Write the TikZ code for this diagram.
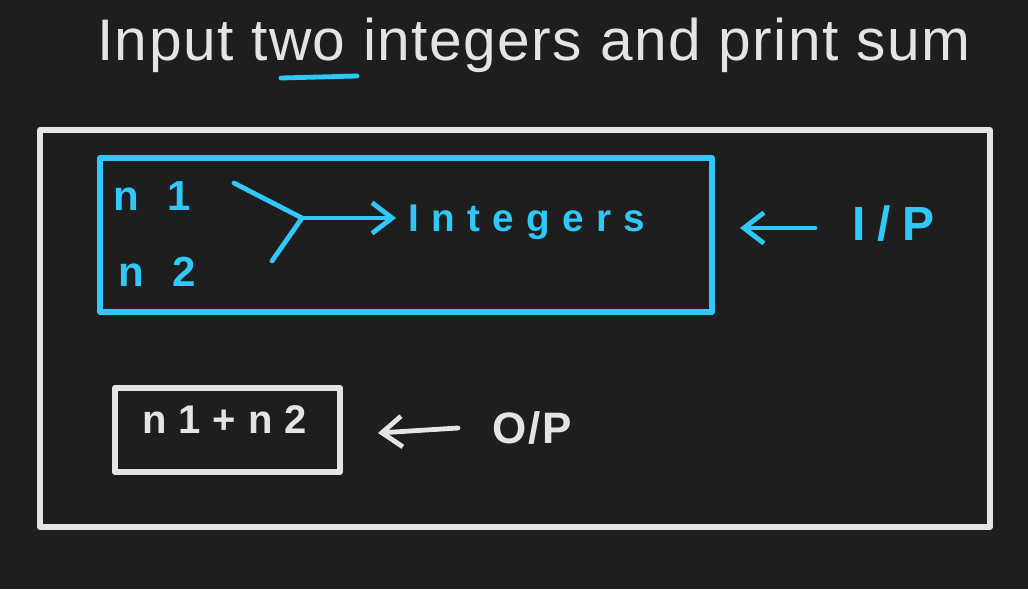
\documentclass[tikz,border=0pt]{standalone}
\usepackage{fontspec}
\setmainfont{Liberation Sans}
\usetikzlibrary{arrows.meta}
\definecolor{bg}{HTML}{1E1E1E}
\definecolor{ink}{HTML}{E4E4E4}
\definecolor{sky}{HTML}{30C8F8}
\tikzset{
  frame/.style={line width=4pt, line join=round, line cap=round},
  pen/.style={line width=3.6pt, line cap=round, line join=round},
  barb/.style={-{Straight Barb[length=15pt,width=23pt,line width=3.6pt]}},
  txt/.style={inner sep=0pt, anchor=base west},
}
\begin{document}
\begin{tikzpicture}[x=0.75pt,y=-0.75pt]
\fill[bg] (0,0) rectangle (1028,589);
\useasboundingbox (0,0) rectangle (1028,589);
% title
\node[txt, text=ink, font=\fontsize{44pt}{50pt}\selectfont\addfontfeatures{LetterSpace=2.5}] (title) at (97,60) {Input two integers and print sum};
\coordinate (ul1) at (281,78);
\coordinate (ul2) at (357,76);
\draw[pen, sky] (ul1) -- (ul2);
% outer frame
\draw[frame, ink] (40,130) rectangle (990,527);
% input box
\draw[frame, sky] (100,158) rectangle (712,312);
\node[txt, text=sky, font=\fontsize{31.5pt}{36pt}\selectfont\bfseries\addfontfeatures{LetterSpace=40}] (n1) at (113,210) {n 1};
\node[txt, text=sky, font=\fontsize{31.5pt}{36pt}\selectfont\bfseries\addfontfeatures{LetterSpace=40}] (n2) at (118,286) {n 2};
\coordinate (s1) at (234,183);
\coordinate (s2) at (272,261);
\coordinate (j) at (302,218);
\coordinate (tip) at (396,218);
\draw[pen, sky] (s1) -- (j);
\draw[pen, sky] (s2) -- (j);
\draw[pen, sky, barb] (j) -- (tip);
\node[txt, text=sky, font=\fontsize{29pt}{34pt}\selectfont\bfseries\addfontfeatures{LetterSpace=32}] (int) at (408,231) {Integers};
% I/P label
\node[txt, text=sky, font=\fontsize{36pt}{40pt}\selectfont\bfseries\addfontfeatures{LetterSpace=24}] (ip) at (852,240) {I/P};
\coordinate (ipa) at (815,228);
\coordinate (ipt) at (740,228);
\draw[pen, sky, barb] (ipa) -- (ipt);
% output box
\draw[frame, ink] (115,388) rectangle (340,472);
\node[txt, text=ink, font=\fontsize{30pt}{34pt}\selectfont\bfseries\addfontfeatures{LetterSpace=30}] (sum) at (142,433) {n1+n2};
\node[txt, text=ink, font=\fontsize{33pt}{38pt}\selectfont\bfseries\addfontfeatures{LetterSpace=4}] (op) at (492,443) {O/P};
\coordinate (opa) at (458,428);
\coordinate (opt) at (378,433);
\draw[pen, ink, barb] (opa) -- (opt);
\end{tikzpicture}
\end{document}
